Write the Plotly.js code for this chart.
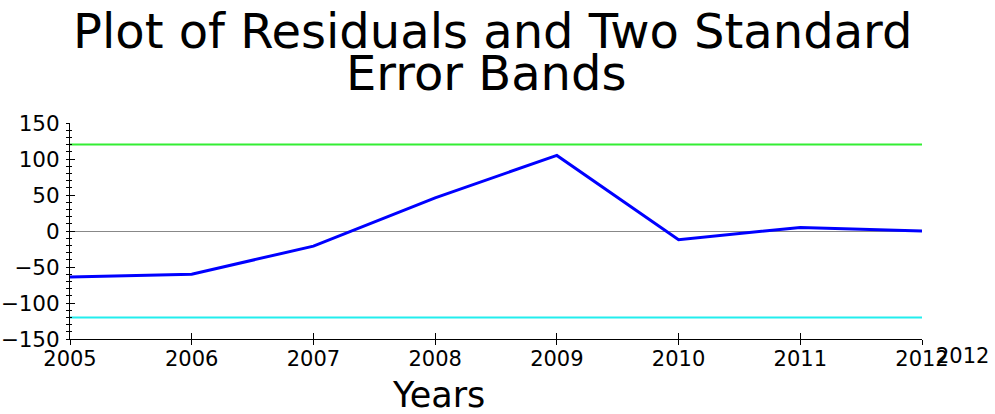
<!DOCTYPE html>
<html>
<head>
<meta charset="utf-8">
<script src="https://cdn.plot.ly/plotly-3.0.1.min.js"></script>
<style>html,body{margin:0;padding:0;background:#fff;}#chart{width:995px;height:414px;}</style>
</head>
<body>
<div id="chart"></div>
<script>
var years = [2005, 2006, 2007, 2008, 2009, 2010, 2011, 2012];
var residuals = [-64, -60, -21, 46, 105, -12, 5, 0];
var upperBand = [120, 120];
var lowerBand = [-120, -120];
var bandYears = [2005, 2012];
var yTicks = [-150, -100, -50, 0, 50, 100, 150];
var xTickLabels = ['2005', '2006', '2007', '2008', '2009', '2010', '2011', '2012'];
var titleLines = ['Plot of Residuals and Two Standard', 'Error Bands'];
var xTitle = 'Years';

var font = 'DejaVu Sans, Liberation Sans, Arial, sans-serif';

var traces = [
  {x: bandYears, y: upperBand, mode: 'lines', line: {color: '#33ee33', width: 2}, hoverinfo: 'skip'},
  {x: bandYears, y: lowerBand, mode: 'lines', line: {color: '#22eeee', width: 2}, hoverinfo: 'skip'},
  {x: years, y: residuals, mode: 'lines', line: {color: '#0000ff', width: 3}},
  {x: [], y: [], xaxis: 'x2', yaxis: 'y2', mode: 'lines', hoverinfo: 'skip'}
];

var layout = {
  width: 995, height: 414,
  margin: {l: 70, r: 73, t: 123, b: 75},
  paper_bgcolor: '#fff', plot_bgcolor: '#fff',
  showlegend: false,
  font: {family: font, color: '#000', size: 21},
  xaxis: {
    range: [2005, 2012], tickvals: years, ticktext: xTickLabels,
    showgrid: false, zeroline: false, showline: true, linecolor: '#000', linewidth: 1,
    ticks: 'outside', ticklen: 5, tickcolor: '#000', tickfont: {size: 21, family: font},
    ticklabelstandoff: -4
  },
  xaxis2: {
    range: [2005, 2012], tickvals: years, overlaying: 'x', anchor: 'y2',
    showgrid: false, zeroline: false, showline: false, showticklabels: false,
    ticks: 'inside', ticklen: 6, tickcolor: '#000'
  },
  yaxis: {
    range: [-150, 150], tickvals: yTicks,
    showgrid: false, zeroline: true, zerolinecolor: '#888', zerolinewidth: 1,
    showline: true, linecolor: '#000', linewidth: 1,
    ticks: 'outside', ticklen: 3, tickcolor: '#000', tickfont: {size: 21.5, family: font},
    ticklabelstandoff: 2,
    minor: {dtick: 10, tick0: 0, ticks: 'outside', ticklen: 3, tickcolor: '#000'}
  },
  yaxis2: {
    range: [-150, 150], tickvals: yTicks, overlaying: 'y', side: 'left', anchor: 'x2',
    showgrid: false, zeroline: false, showline: false, showticklabels: false,
    ticks: 'inside', ticklen: 5, tickcolor: '#000',
    minor: {dtick: 10, tick0: 0, ticks: 'inside', ticklen: 2, tickcolor: '#000'}
  },
  annotations: [
    {text: titleLines[0], xref: 'paper', yref: 'paper', x: 0.496, y: 1, yshift: 92, xanchor: 'center', yanchor: 'middle', showarrow: false, font: {size: 48, family: font}},
    {text: titleLines[1], xref: 'paper', yref: 'paper', x: 0.489, y: 1, yshift: 50, xanchor: 'center', yanchor: 'middle', showarrow: false, font: {size: 48, family: font}},
    {text: xTitle, xref: 'paper', yref: 'paper', x: 0.433, y: 0, yshift: -56, xanchor: 'center', yanchor: 'middle', showarrow: false, font: {size: 35, family: font}},
    {text: xTickLabels[7], xref: 'x', yref: 'paper', x: 2012, y: 0, xshift: 40, yshift: -17, xanchor: 'center', yanchor: 'middle', showarrow: false, font: {size: 21, family: font}}
  ]
};

Plotly.newPlot('chart', traces, layout, {displayModeBar: false, staticPlot: true});
</script>
</body>
</html>
